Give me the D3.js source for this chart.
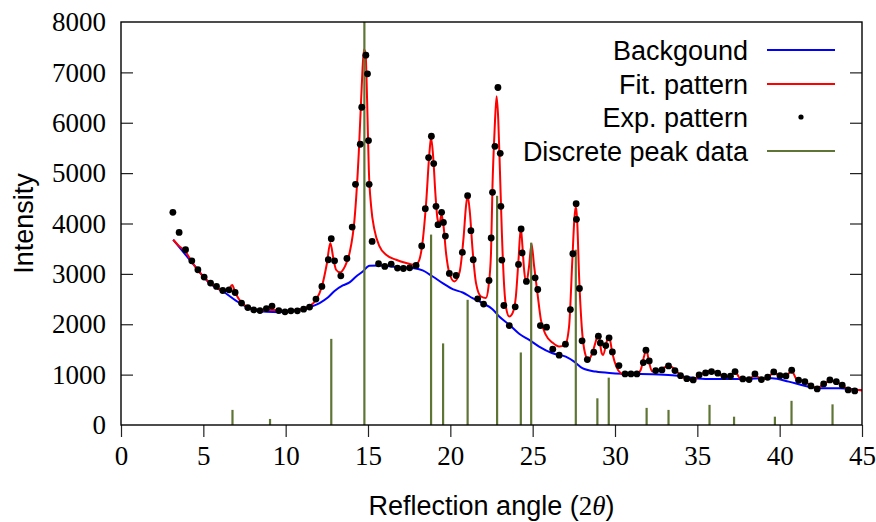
<!DOCTYPE html>
<html>
<head>
<meta charset="utf-8">
<script src="https://cdn.jsdelivr.net/npm/d3@7"></script>
<style>
  body { margin: 0; background: #fff; }
  svg { display: block; }
  .tick text { font-family: "Liberation Serif", serif; font-size: 27px; fill: #000; }
  .lbl { font-family: "Liberation Sans", sans-serif; font-size: 27px; fill: #000; }
</style>
</head>
<body>
<svg id="chart" width="876" height="522"></svg>
<script>
// experimental pattern (dots)
const expAngles = [3.15, 3.53, 3.92, 4.30, 4.67, 5.05, 5.44, 5.80, 6.18, 6.56, 6.93, 7.32, 7.70, 8.06, 8.44, 8.83,
  9.17, 9.58, 9.96, 10.32, 10.71, 11.09, 11.45, 11.84, 12.20, 12.59, 12.77, 12.97, 13.35, 13.72, 14.04, 14.24,
  14.53, 14.62, 14.87, 14.97, 15.03, 15.07, 15.25, 15.64, 16.02, 16.41, 16.79, 17.15, 17.53, 17.92, 18.26, 18.48,
  18.68, 18.85, 18.99, 19.13, 19.25, 19.47, 19.58, 19.70, 19.94, 20.35, 20.73, 21.05, 21.25, 21.39, 21.66, 22.02,
  22.35, 22.48, 22.56, 22.71, 22.89, 23.03, 23.07, 23.13, 23.25, 23.58, 23.94, 24.14, 24.30, 24.36, 24.62, 25.15,
  25.31, 25.47, 25.84, 26.22, 26.61, 26.99, 27.29, 27.44, 27.64, 27.66, 27.84, 28.00, 28.32, 28.71, 28.99, 29.11,
  29.44, 29.64, 29.84, 30.24, 30.61, 30.97, 31.33, 31.72, 31.88, 32.08, 32.47, 32.85, 33.25, 33.64, 33.98, 34.36,
  34.75, 35.11, 35.50, 35.86, 36.24, 36.62, 37.01, 37.29, 37.76, 38.14, 38.50, 38.89, 39.27, 39.64, 40.02, 40.38,
  40.73, 41.15, 41.53, 41.90, 42.28, 42.67, 43.05, 43.44, 43.80, 44.16, 44.56];
const expValues = [4221, 3823, 3479, 3260, 3082, 2936, 2817, 2750, 2670, 2684, 2630, 2420, 2332, 2286, 2272, 2312,
  2360, 2272, 2247, 2266, 2266, 2300, 2340, 2499, 2750, 3280, 3698, 3260, 2962, 3306, 3930, 4777,
  5573, 6308, 7342, 6972, 5646, 4777, 3644, 3201, 3147, 3195, 3115, 3107, 3121, 3167, 3553, 4294,
  5308, 5732, 5189, 4340, 3976, 4221, 4022, 3751, 3008, 2968, 3426, 4553, 3857, 3280, 2505, 2400,
  2869, 3712, 4618, 5533, 6700, 5394, 4340, 3274, 2372, 1974, 2346, 3187, 3891, 3414, 2850, 2922,
  2690, 1974, 1942, 1505, 1386, 1604, 2292, 3400, 4394, 4082, 2710, 1670, 1298, 1445, 1763, 1630,
  1577, 1730, 1451, 1179, 1014, 1014, 1014, 1239, 1485, 1272, 1080, 1093, 1173, 1080, 980, 920,
  895, 994, 1034, 1060, 1028, 968, 968, 1060, 915, 901, 1014, 901, 948, 1054, 980, 974,
  1087, 889, 861, 775, 716, 815, 895, 861, 789, 696, 676];

// fitted pattern (red line)
const fitAngles = [3.17, 3.5, 3.92, 4.30, 4.67, 5.05, 5.44, 5.80, 6.18, 6.5, 6.75, 6.95, 7.32, 7.70, 8.06, 8.44,
  8.83, 9.2, 9.58, 9.96, 10.32, 10.71, 11.09, 11.45, 11.84, 12.2, 12.5, 12.71, 12.9, 13.06, 13.3, 13.6,
  13.88, 14.18, 14.44, 14.62, 14.75, 14.85, 14.95, 15.05, 15.19, 15.39, 15.70, 16.10, 16.71, 17.32, 17.82, 18.02,
  18.28, 18.53, 18.73, 18.83, 18.97, 19.09, 19.23, 19.33, 19.47, 19.59, 19.74, 19.94, 20.24, 20.55, 20.81, 20.95,
  21.05, 21.19, 21.35, 21.56, 21.86, 22.16, 22.32, 22.47, 22.56, 22.69, 22.81, 22.91, 23.01, 23.13, 23.27, 23.41,
  23.58, 23.78, 23.98, 24.14, 24.28, 24.38, 24.47, 24.62, 24.78, 24.93, 25.09, 25.29, 25.50, 25.80, 26.20, 26.61,
  26.97, 27.21, 27.41, 27.53, 27.62, 27.70, 27.82, 27.98, 28.18, 28.38, 28.62, 28.83, 28.99, 29.19, 29.27, 29.53,
  29.64, 29.84, 30.08, 30.35, 30.65, 31.26, 31.56, 31.76, 31.90, 32.06, 32.26, 32.67, 33.27, 33.68, 33.98, 34.5,
  34.75, 35.09, 35.7, 36.24, 36.71, 37.01, 37.29, 37.62, 38.14, 38.5, 38.89, 39.27, 39.64, 40.02, 40.38, 40.73,
  41.05, 41.53, 41.9, 42.28, 42.67, 43.05, 43.44, 43.80, 44.16, 44.8, 45];
const fitValues = [3678, 3560, 3440, 3240, 3070, 2930, 2810, 2730, 2660, 2670, 2777, 2620, 2430, 2340, 2290, 2275,
  2280, 2285, 2275, 2260, 2270, 2280, 2310, 2360, 2480, 2750, 3200, 3612, 3300, 3082, 3030, 3150,
  3413, 4076, 5402, 6726, 7455, 7390, 6395, 5070, 4340, 3877, 3545, 3380, 3280, 3215, 3181, 3215,
  3545, 4407, 5402, 5700, 5268, 4606, 4076, 4010, 4175, 3943, 3413, 3016, 2849, 3016, 3744, 4340,
  4553, 4208, 3479, 2817, 2551, 2519, 2750, 3413, 4738, 5865, 6527, 6064, 5070, 3811, 2750, 2286,
  2153, 2221, 2551, 3280, 3910, 3545, 3120, 2830, 3150, 3600, 3147, 2618, 2087, 1789, 1636, 1557,
  1590, 1954, 3280, 4076, 4340, 4076, 2948, 1954, 1425, 1292, 1425, 1656, 1809, 1425, 1392, 1690,
  1755, 1425, 1159, 1028, 994, 994, 1093, 1358, 1505, 1258, 1060, 1093, 1173, 1093, 980, 905,
  895, 974, 1074, 1028, 948, 970, 1060, 915, 905, 994, 905, 945, 1034, 975, 975, 1074,
  895, 861, 780, 735, 810, 875, 855, 789, 710, 696, 690];

// background (blue line)
const bgAngles = [3.17, 4.3, 5.44, 6.2, 7.21, 8.02, 8.83, 9.64, 10.44, 11.25, 12.06, 12.56, 12.97, 13.47, 13.88, 14.28,
  14.68, 15.09, 15.70, 16.71, 17.72, 18.32, 18.93, 19.53, 20.14, 20.75, 21.35, 21.96, 22.56, 22.97, 23.58, 24.18,
  24.79, 25.39, 26.2, 27.01, 27.52, 28.02, 28.83, 29.84, 30.85, 32.26, 33.47, 35.5, 37.52, 39.53, 40.55, 41.56,
  42.56, 43.58, 44.8, 45];
const bgValues = [3678, 3230, 2800, 2650, 2420, 2286, 2247, 2240, 2272, 2320, 2420, 2530, 2660, 2770, 2830, 2948,
  3048, 3161, 3167, 3135, 3115, 3068, 2948, 2817, 2698, 2630, 2519, 2419, 2300, 2153, 1990, 1810,
  1690, 1557, 1425, 1358, 1258, 1127, 1060, 1028, 1014, 1007, 990, 915, 915, 928, 861, 775,
  730, 730, 696, 690];

// discrete peak data (sticks)
const peakAngles = [6.77, 9.05, 12.77, 14.78, 18.83, 19.56, 21.05, 22.84, 24.28, 24.91, 27.62, 28.93, 29.62,
  31.92, 33.25, 35.74, 37.23, 39.71, 40.72, 43.21];
const peakValues = [300, 120, 1710, 8000, 3780, 1620, 2485, 4550, 1440, 3620, 3480, 530, 940,
  340, 300, 400, 165, 165, 480, 410];

const xTicks = [0, 5, 10, 15, 20, 25, 30, 35, 40, 45];
const yTicks = [0, 1000, 2000, 3000, 4000, 5000, 6000, 7000, 8000];

const legendNames = ['Backgound', 'Fit. pattern', 'Exp. pattern', 'Discrete peak data'];

const BLUE = '#0000ff', RED = '#ff0000', OLIVE = '#5f7535';

const svg = d3.select('#chart');
const m = { left: 121, right: 862, top: 22, bottom: 425 };

const x = d3.scaleLinear().domain([0, 45]).range([m.left, m.right]);
const y = d3.scaleLinear().domain([0, 8000]).range([m.bottom, m.top]);

svg.append('clipPath').attr('id', 'plot')
  .append('rect').attr('x', m.left).attr('y', m.top)
  .attr('width', m.right - m.left).attr('height', m.bottom - m.top);

const plot = svg.append('g').attr('clip-path', 'url(#plot)');

const zip = (a, b) => a.map((v, i) => [v, b[i]]);

const line = d3.line()
  .x(d => x(d[0]))
  .y(d => y(d[1]))
  .curve(d3.curveMonotoneX);

plot.append('path')
  .attr('d', line(zip(bgAngles, bgValues)))
  .attr('fill', 'none').attr('stroke', BLUE).attr('stroke-width', 2);

plot.append('path')
  .attr('d', line(zip(fitAngles, fitValues)))
  .attr('fill', 'none').attr('stroke', RED).attr('stroke-width', 2);

plot.append('g')
  .selectAll('line')
  .data(zip(peakAngles, peakValues))
  .join('line')
  .attr('x1', d => x(d[0])).attr('x2', d => x(d[0]))
  .attr('y1', y(0)).attr('y2', d => y(d[1]))
  .attr('stroke', OLIVE).attr('stroke-width', 2.2);

plot.append('g')
  .selectAll('circle')
  .data(zip(expAngles, expValues))
  .join('circle')
  .attr('cx', d => x(d[0])).attr('cy', d => y(d[1]))
  .attr('r', 3.4).attr('fill', '#000');

// axes
const gx = svg.append('g')
  .attr('transform', `translate(0,${m.bottom})`)
  .call(d3.axisBottom(x).tickValues(xTicks).tickFormat(d3.format('d'))
    .tickSizeInner(12).tickSizeOuter(0).tickPadding(9));
const gy = svg.append('g')
  .attr('transform', `translate(${m.left},0)`)
  .call(d3.axisLeft(y).tickValues(yTicks).tickFormat(d3.format('d'))
    .tickSizeInner(-12).tickSizeOuter(0).tickPadding(15));
const gr = svg.append('g')
  .attr('transform', `translate(${m.right},0)`)
  .call(d3.axisRight(y).tickValues(yTicks.slice(1, -1)).tickSizeInner(-12).tickSizeOuter(0).tickFormat(''));

[gx, gy, gr].forEach(g => {
  g.select('.domain').remove();
  g.selectAll('.tick line').attr('stroke', '#222').attr('stroke-width', 1.2);
});
gy.selectAll('.tick').filter(d => d === 0 || d === 8000).select('line').remove();

svg.append('rect')
  .attr('x', m.left).attr('y', m.top)
  .attr('width', m.right - m.left).attr('height', m.bottom - m.top)
  .attr('fill', 'none').attr('stroke', '#000').attr('stroke-width', 1.4);

// axis titles
const xt = svg.append('text').attr('class', 'lbl')
  .attr('x', (m.left + m.right) / 2).attr('y', 515)
  .attr('text-anchor', 'middle');
xt.append('tspan').text('Reflection angle (');
xt.append('tspan').attr('font-family', 'Liberation Serif, serif').text('2');
xt.append('tspan').attr('font-family', 'Liberation Serif, serif').attr('font-style', 'italic').text('θ');
xt.append('tspan').text(')');

svg.append('text').attr('class', 'lbl')
  .attr('transform', `translate(33,${(m.top + m.bottom) / 2}) rotate(-90)`)
  .attr('text-anchor', 'middle')
  .text('Intensity');

// legend
const rowsY = [50, 84, 117, 151];
const lg = svg.append('g');
legendNames.forEach((name, i) => {
  const yy = rowsY[i];
  lg.append('text').attr('class', 'lbl')
    .attr('x', 748).attr('y', yy + 9.5)
    .attr('text-anchor', 'end')
    .text(name);
  if (i === 2) {
    lg.append('circle').attr('cx', 801).attr('cy', yy).attr('r', 2.6).attr('fill', '#000');
  } else {
    lg.append('line')
      .attr('x1', 767).attr('x2', 835).attr('y1', yy).attr('y2', yy)
      .attr('stroke', [BLUE, RED, null, OLIVE][i]).attr('stroke-width', 1.8);
  }
});
</script>
</body>
</html>
